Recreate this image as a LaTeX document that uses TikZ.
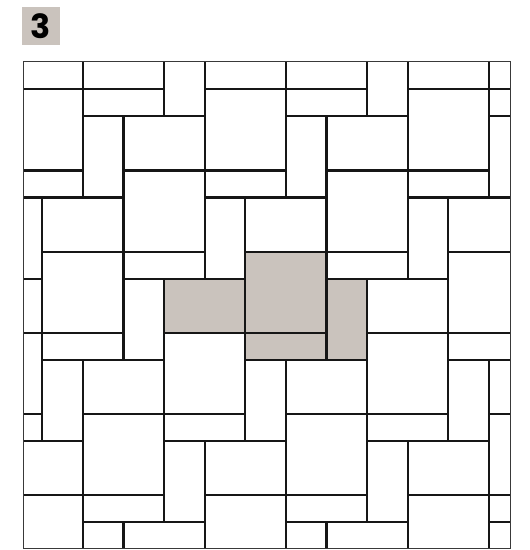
\documentclass[tikz,border=0pt]{standalone}
\usepackage{fontspec}
\newfontfamily\labelfont{Poppins}
\definecolor{paverTan}{RGB}{202,195,189}
\definecolor{paverLine}{RGB}{22,22,22}

\tikzset{
  paver/.style={draw=paverLine, line width=2.2pt},
  patternframe/.style={draw=paverLine!85, line width=1.3pt}
}

\begin{document}
\begin{tikzpicture}[x=0.5cm,y=0.5cm]
  \useasboundingbox (-18.13,-22.05) rectangle (20.97,18.6);
  \coordinate (FrameLo) at (-16.4,-21.95);
  \coordinate (FrameHi) at (19.6,14.05);
  % Pattern number
  \node[fill=paverTan, minimum size=1.4cm, inner sep=0pt,
        font=\labelfont\bfseries\fontsize{35}{35}\selectfont] (num) at (-15.1,16.68) {3};
  % Highlighted repeat unit (square, two bars, one upright)
  \fill[paverTan] (0,-6) rectangle (6,0);
  \fill[paverTan] (-6,-6) rectangle (0,-2);
  \fill[paverTan] (0,-8) rectangle (6,-6);
  \fill[paverTan] (6,-8) rectangle (9,-2);
  % Repeat the unit on its lattice, clipped to the frame
  \begin{scope}
    \clip (FrameLo) rectangle (FrameHi);
    \foreach \m in {-6,...,6}
      \foreach \n in {-6,...,6}
        \draw[paver, shift={({-9*\m-3*\n},{6*\m+12*\n})}]
          (0,-6) rectangle (6,0) (-6,-6) rectangle (0,-2)
          (0,-8) rectangle (6,-6) (6,-8) rectangle (9,-2);
  \end{scope}
  \draw[patternframe] (FrameLo) rectangle (FrameHi);
\end{tikzpicture}
\end{document}
